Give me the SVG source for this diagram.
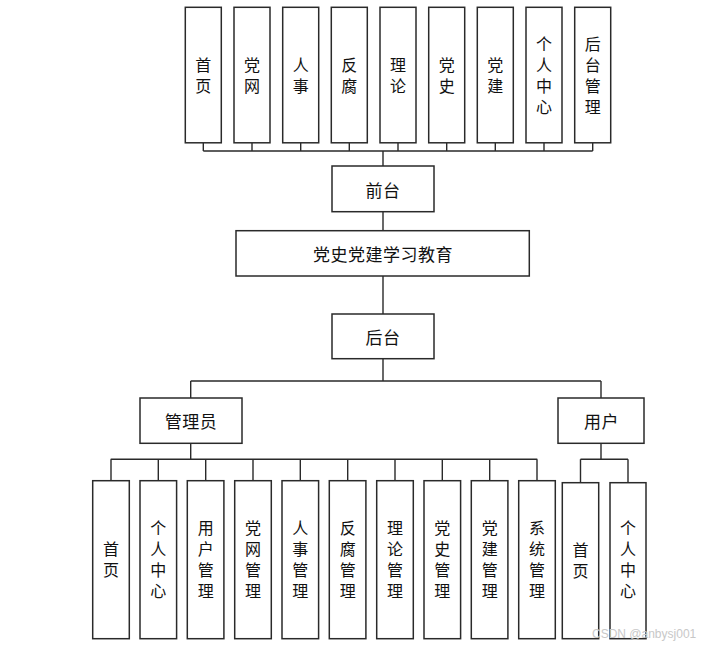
<svg xmlns="http://www.w3.org/2000/svg" width="710" height="647" viewBox="0 0 710 647">
<style>
.box{fill:#fff;stroke:#2a2a2a;stroke-width:1.5}
.ln{fill:none;stroke:#2a2a2a;stroke-width:1.4}
.v{font-family:"Noto Sans CJK SC","Liberation Sans",sans-serif;font-size:16px;fill:#111;text-anchor:middle;writing-mode:vertical-rl;letter-spacing:5px}
.t2{font-family:"Noto Sans CJK SC","Liberation Sans",sans-serif;font-size:17px;fill:#111;text-anchor:middle;dominant-baseline:central;letter-spacing:0.5px}
.wm{font-family:"Liberation Sans",sans-serif;font-size:12px;fill:#c8c8c8}
</style>
<rect width="710" height="647" fill="#fff"/>
<g id="connectors">
<path class="ln" d="M203.3 143V151M252 143V151M300.7 143V151M349.3 143V151M398 143V151M446.7 143V151M495.3 143V151M544 143V151M592.7 143V151M203.3 151H592.7"/>
<path class="ln" d="M383 151V166M383 212V231M383 276V314M383 359V381M190.7 381H601M190.7 381V398M601 381V398"/>
<path class="ln" d="M190.7 443V459.3M110.7 459.3H537.3M111 459.3V481M158.3 459.3V481M205.7 459.3V481M253 459.3V481M300.3 459.3V481M347.7 459.3V481M395 459.3V481M442.3 459.3V481M489.7 459.3V481M537 459.3V481"/>
<path class="ln" d="M601 443V459.3M580.5 459.3H628M580.5 459.3V483M628 459.3V483"/>
</g>
<g id="top-shouye"><rect class="box" x="185.3" y="7.3" width="36" height="135.5"/><text class="v" x="203.3" y="77.5">首页</text></g>
<g id="top-dangwang"><rect class="box" x="234" y="7.3" width="36" height="135.5"/><text class="v" x="252" y="77.5">党网</text></g>
<g id="top-renshi"><rect class="box" x="282.7" y="7.3" width="36" height="135.5"/><text class="v" x="300.7" y="77.5">人事</text></g>
<g id="top-fanfu"><rect class="box" x="331.3" y="7.3" width="36" height="135.5"/><text class="v" x="349.3" y="77.5">反腐</text></g>
<g id="top-lilun"><rect class="box" x="380" y="7.3" width="36" height="135.5"/><text class="v" x="398" y="77.5">理论</text></g>
<g id="top-dangshi"><rect class="box" x="428.7" y="7.3" width="36" height="135.5"/><text class="v" x="446.7" y="77.5">党史</text></g>
<g id="top-dangjian"><rect class="box" x="477.3" y="7.3" width="36" height="135.5"/><text class="v" x="495.3" y="77.5">党建</text></g>
<g id="top-geren"><rect class="box" x="526" y="7.3" width="36" height="135.5"/><text class="v" x="544" y="78">个人中心</text></g>
<g id="top-houtaiguanli"><rect class="box" x="574.7" y="7.3" width="36" height="135.5"/><text class="v" x="592.7" y="78">后台管理</text></g>
<g id="qiantai"><rect class="box" x="332" y="166" width="102" height="45.7"/><text class="t2" x="383" y="189">前台</text></g>
<g id="root"><rect class="box" x="236" y="230.7" width="293.3" height="45.3"/><text class="t2" x="383" y="253">党史党建学习教育</text></g>
<g id="houtai"><rect class="box" x="332" y="314" width="102" height="44.7"/><text class="t2" x="383" y="336">后台</text></g>
<g id="admin"><rect class="box" x="140" y="398" width="102" height="45.3"/><text class="t2" x="191" y="420.5">管理员</text></g>
<g id="user"><rect class="box" x="558" y="398" width="86" height="45.3"/><text class="t2" x="601.5" y="420.5">用户</text></g>
<g id="a-shouye"><rect class="box" x="92.7" y="480.7" width="36.6" height="158"/><text class="v" x="111" y="562">首页</text></g>
<g id="a-geren"><rect class="box" x="140" y="480.7" width="36.6" height="158"/><text class="v" x="158.3" y="562">个人中心</text></g>
<g id="a-yonghu"><rect class="box" x="187.3" y="480.7" width="36.6" height="158"/><text class="v" x="205.7" y="562">用户管理</text></g>
<g id="a-dangwang"><rect class="box" x="234.7" y="480.7" width="36.6" height="158"/><text class="v" x="253" y="562">党网管理</text></g>
<g id="a-renshi"><rect class="box" x="282" y="480.7" width="36.6" height="158"/><text class="v" x="300.3" y="562">人事管理</text></g>
<g id="a-fanfu"><rect class="box" x="329.3" y="480.7" width="36.6" height="158"/><text class="v" x="347.7" y="562">反腐管理</text></g>
<g id="a-lilun"><rect class="box" x="376.7" y="480.7" width="36.6" height="158"/><text class="v" x="395" y="562">理论管理</text></g>
<g id="a-dangshi"><rect class="box" x="424" y="480.7" width="36.6" height="158"/><text class="v" x="442.3" y="562">党史管理</text></g>
<g id="a-dangjian"><rect class="box" x="471.3" y="480.7" width="36.6" height="158"/><text class="v" x="489.7" y="562">党建管理</text></g>
<g id="a-xitong"><rect class="box" x="518.7" y="480.7" width="36.6" height="158"/><text class="v" x="537" y="562">系统管理</text></g>
<g id="u-shouye"><rect class="box" x="562.3" y="482.7" width="36.4" height="156"/><text class="v" x="580.5" y="563">首页</text></g>
<g id="u-geren"><rect class="box" x="610" y="482.7" width="36" height="156"/><text class="v" x="628" y="562">个人中心</text></g>
<text class="wm" x="592" y="638">CSDN @anbysj001</text>
</svg>
